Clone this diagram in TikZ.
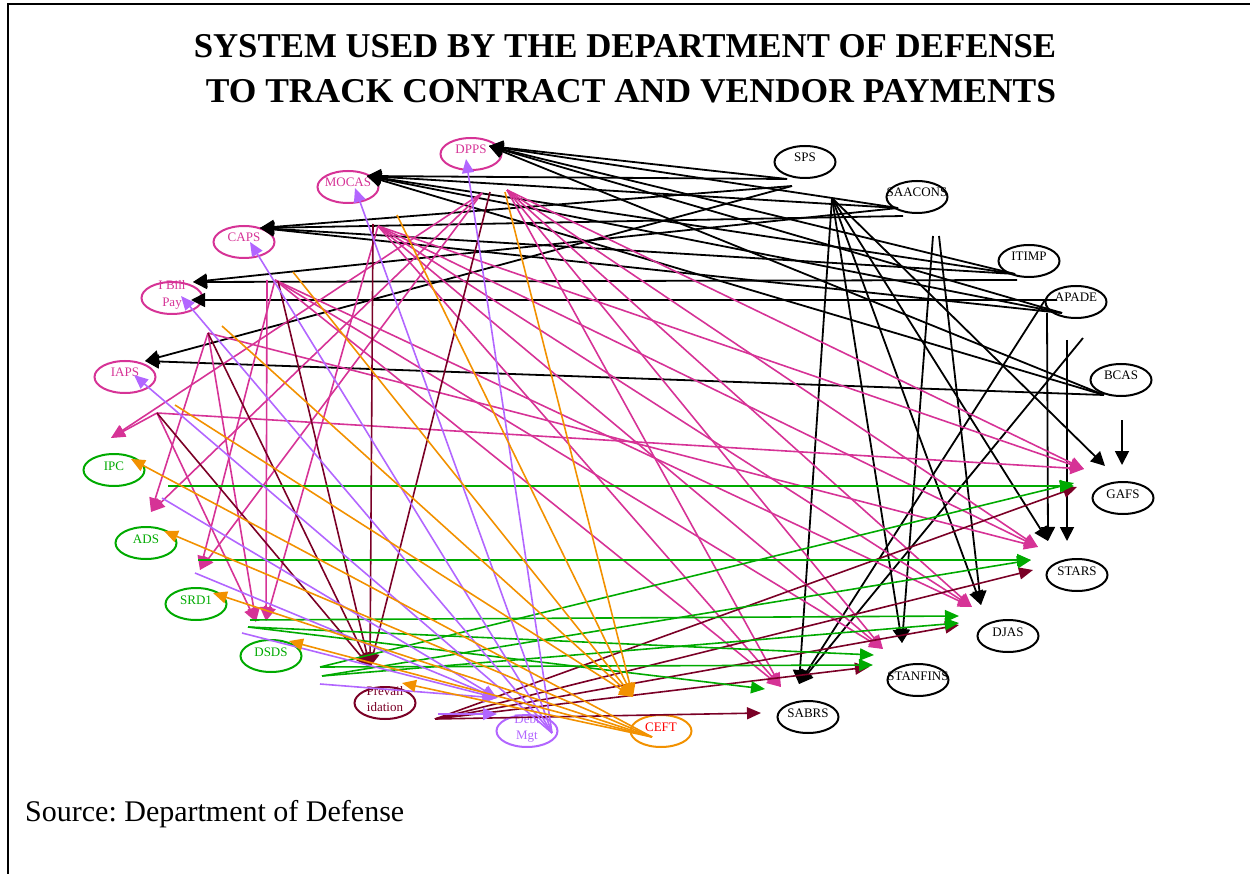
\documentclass[tikz,border=0pt]{standalone}
\usepackage{fontspec}
\setmainfont{Liberation Serif}
\usepackage{xcolor}
\usetikzlibrary{shapes.geometric,arrows.meta}
\frenchspacing
\definecolor{dodpink}{RGB}{214,51,150}
\definecolor{dodgreen}{RGB}{0,170,0}
\definecolor{dodmaroon}{RGB}{122,0,38}
\definecolor{dodviolet}{RGB}{178,102,255}
\definecolor{dodorange}{RGB}{242,145,0}
\tikzstyle{sys} = [ellipse, draw, line width=2pt, minimum width=61pt,
minimum height=32pt, inner sep=0pt, font=\fontsize{13}{15}\selectfont]
\tikzstyle{pinksys} = [sys, draw=dodpink, text=dodpink]
\tikzstyle{greensys} = [sys, draw=dodgreen, text=dodgreen]
\tikzstyle{title} = [inner sep=0pt, font=\fontsize{34.8}{40}\bfseries\selectfont]
\tikzstyle{link} = [draw, line width=1.8pt, -{Triangle[length=14pt,width=14pt]}]
\tikzstyle{feed} = [draw, line width=1.6pt, -{Triangle[length=14pt,width=12pt]}]
\tikzstyle{pinkfeed} = [feed, dodpink]
\tikzstyle{greenfeed} = [feed, dodgreen]
\tikzstyle{maroonfeed} = [feed, dodmaroon]
\tikzstyle{violetfeed} = [feed, dodviolet]
\tikzstyle{orangefeed} = [feed, dodorange]
\newcommand{\lbl}[1]{\smash{\makebox[0pt]{#1}}}
\newcommand{\lbll}[2]{\smash{\makebox[0pt]{\raisebox{8pt}{#1}}\makebox[0pt]{\raisebox{-8.5pt}{#2}}}}

\begin{document}
\begin{tikzpicture}[x=1pt, y=-1pt]
        \useasboundingbox (0,0) rectangle (1250,874);
        \draw [line width=2pt] (8,874) -- (8,4) -- (1250,4);

        \node [title, anchor=base] (head1) at (625,58) {SYSTEM USED BY THE DEPARTMENT OF DEFENSE};
        \node [title, anchor=base] (head2) at (631,103) {\scalebox{1.02}[1]{TO TRACK CONTRACT AND VENDOR PAYMENTS}};
        \node [inner sep=0pt, anchor=base west, font=\fontsize{30}{34}\selectfont] (source) at (25,821) {Source: Department of Defense};

        % payment systems
        \node [pinksys] (dpps) at (471,154) {\lbl{DPPS}};
        \node [pinksys] (mocas) at (348,187) {\lbl{MOCAS}};
        \node [pinksys] (caps) at (244,242) {\lbl{CAPS}};
        \node [pinksys] (ibill) at (172,298) {\lbll{I Bill}{Pay}};
        \node [pinksys] (iaps) at (125,377) {\lbl{IAPS}};
        \node [greensys] (ipc) at (114,470) {\lbl{IPC}};
        \node [greensys] (ads) at (146,543) {\lbl{ADS}};
        \node [greensys] (srd) at (196,604) {\lbl{SRD1}};
        \node [greensys] (dsds) at (271,656) {\lbl{DSDS}};
        \node [sys, draw=dodmaroon, text=dodmaroon] (prev) at (385,703) {\lbll{Prevail}{idation}};
        \node [sys, draw=dodviolet, text=dodviolet] (debt) at (527,731) {\lbll{Debt}{Mgt}};
        \node [sys, draw=dodorange, text=red] (ceft) at (661,731) {\lbl{CEFT}};

        % accounting systems
        \node [sys] (sps) at (805,162) {\lbl{SPS}};
        \node [sys] (saacons) at (917,197) {\lbl{SAACONS}};
        \node [sys] (itimp) at (1029,261) {\lbl{ITIMP}};
        \node [sys] (apade) at (1076,302) {\lbl{APADE}};
        \node [sys] (bcas) at (1121,380) {\lbl{BCAS}};
        \node [sys] (gafs) at (1123,498) {\lbl{GAFS}};
        \node [sys] (stars) at (1077,575) {\lbl{STARS}};
        \node [sys] (djas) at (1008,636) {\lbl{DJAS}};
        \node [sys] (stanfins) at (918,680) {\lbl{STANFINS}};
        \node [sys] (sabrs) at (808,717) {\lbl{SABRS}};

        % loose ends of the black links
        \coordinate (spsA) at (787,179);
        \coordinate (spsB) at (792,186);
        \coordinate (saaA) at (898,208);
        \coordinate (saaB) at (903,216);
        \coordinate (saaF) at (832,198);
        \coordinate (saaL) at (933,236);
        \coordinate (saaR) at (939,236);
        \coordinate (itiA) at (1015,274);
        \coordinate (itiB) at (1017,280);
        \coordinate (apaA) at (1057,300);
        \coordinate (apaB) at (1062,313);
        \coordinate (apaV) at (1047,313);
        \coordinate (apaD) at (1045,300);
        \coordinate (bcaA) at (1104,395);
        \coordinate (bcaD) at (1083,338);
        \coordinate (bcaV) at (1067,340);
        \coordinate (bcaG) at (1122,420);
        \coordinate (kDpps) at (489,146);
        \coordinate (kMocas) at (367,176);
        \coordinate (kCaps) at (260,228);
        \coordinate (kBillA) at (193,282);
        \coordinate (kBillB) at (191,300);
        \coordinate (kIaps) at (145,361);
        \coordinate (kGafsA) at (1105,466);
        \coordinate (kGafsB) at (1122,465);
        \coordinate (kStarsA) at (1048,541);
        \coordinate (kStarsB) at (1067,541);
        \coordinate (kDjas) at (981,605);
        \coordinate (kStan) at (902,643);
        \coordinate (kSabrs) at (799,684);

        % loose ends of the pink links
        \coordinate (pA) at (482,193);
        \coordinate (pB) at (507,190);
        \coordinate (pC) at (378,226);
        \coordinate (pD) at (275,280);
        \coordinate (pE) at (267,280);
        \coordinate (pF) at (208,333);
        \coordinate (pG) at (157,413);
        \coordinate (qIpc) at (111,438);
        \coordinate (qAds) at (151,512);
        \coordinate (qSrd) at (200,570);
        \coordinate (qDsdsA) at (256,622);
        \coordinate (qDsdsB) at (266,621);
        \coordinate (rGafs) at (1084,469);
        \coordinate (rStars) at (1038,547);
        \coordinate (rDjas) at (972,607);
        \coordinate (rStan) at (883,649);
        \coordinate (rSabrs) at (781,687);

        % loose ends of the maroon links
        \coordinate (mA) at (490,192);
        \coordinate (mB) at (373,224);
        \coordinate (mC) at (278,281);
        \coordinate (mS) at (435,719);
        \coordinate (mPrev) at (370,667);
        \coordinate (mSabrs) at (761,713);
        \coordinate (mStan) at (869,667);
        \coordinate (mDjas) at (959,625);
        \coordinate (mStars) at (1033,570);
        \coordinate (mGafs) at (1077,487);

        % loose ends of the green links
        \coordinate (gIpc) at (168,486);
        \coordinate (gAds) at (198,560);
        \coordinate (gSrdA) at (250,620);
        \coordinate (gSrdB) at (248,627);
        \coordinate (gDsdsA) at (320,667);
        \coordinate (gDsdsB) at (322,676);
        \coordinate (nGafsA) at (1074,486);
        \coordinate (nGafsB) at (1074,483);
        \coordinate (nStars) at (1031,560);
        \coordinate (nDjasA) at (959,616);
        \coordinate (nDjasB) at (959,623);
        \coordinate (nStanA) at (874,655);
        \coordinate (nStanB) at (873,665);
        \coordinate (nSabrs) at (765,689);

        % loose ends of the violet links
        \coordinate (vDebt) at (552,733);
        \coordinate (uDpps) at (466,159);
        \coordinate (uMocas) at (355,188);
        \coordinate (uCaps) at (250,242);
        \coordinate (uBill) at (181,296);
        \coordinate (uIaps) at (134,375);
        \coordinate (vS1) at (162,498);
        \coordinate (vS2) at (195,573);
        \coordinate (vS3) at (242,633);
        \coordinate (vS4) at (320,684);
        \coordinate (vS5) at (438,714);
        \coordinate (wDebtA) at (497,698);
        \coordinate (wDebtB) at (497,714);

        % loose ends of the orange links
        \coordinate (oCeft) at (652,737);
        \coordinate (oIpc) at (131,459);
        \coordinate (oAds) at (164,531);
        \coordinate (oSrd) at (213,593);
        \coordinate (oDsds) at (289,641);
        \coordinate (oPrev) at (402,683);
        \coordinate (oS1) at (505,192);
        \coordinate (oS2) at (397,215);
        \coordinate (oS3) at (293,272);
        \coordinate (oS4) at (222,326);
        \coordinate (oS5) at (175,405);
        \coordinate (cCeft) at (633,697);

        \path [link] (spsA) -- (kDpps);
        \path [link] (spsA) -- (kMocas);
        \path [link] (spsB) -- (kCaps);
        \path [link] (spsB) -- (kIaps);
        \path [link] (saaA) -- (kDpps);
        \path [link] (saaA) -- (kMocas);
        \path [link] (saaB) -- (kCaps);
        \path [link] (saaA) -- (kBillA);
        \path [link] (itiA) -- (kDpps);
        \path [link] (itiA) -- (kMocas);
        \path [link] (itiA) -- (kCaps);
        \path [link] (itiB) -- (kBillA);
        \path [link] (apaA) -- (kBillB);
        \path [link] (apaB) -- (kDpps);
        \path [link] (apaB) -- (kMocas);
        \path [link] (apaB) -- (kCaps);
        \path [link] (bcaA) -- (kDpps);
        \path [link] (bcaA) -- (kMocas);
        \path [link] (bcaA) -- (kIaps);
        \path [link] (saaF) -- (kSabrs);
        \path [link] (saaF) -- (kStan);
        \path [link] (saaF) -- (kDjas);
        \path [link] (saaF) -- (kStarsA);
        \path [link] (saaF) -- (kGafsA);
        \path [link] (saaL) -- (kStan);
        \path [link] (saaR) -- (kDjas);
        \path [link] (apaV) -- (kStarsA);
        \path [link] (bcaV) -- (kStarsB);
        \path [link] (apaD) -- (kSabrs);
        \path [link] (bcaD) -- (kSabrs);
        \path [link] (bcaG) -- (kGafsB);

        \path [pinkfeed] (pA) -- (qIpc);
        \path [pinkfeed] (pG) -- (qIpc);
        \path [pinkfeed] (pA) -- (qAds);
        \path [pinkfeed] (pF) -- (qAds);
        \path [pinkfeed] (pA) -- (qSrd);
        \path [pinkfeed] (pD) -- (qSrd);
        \path [pinkfeed] (pF) -- (qDsdsA);
        \path [pinkfeed] (pG) -- (qDsdsA);
        \path [pinkfeed] (pE) -- (qDsdsB);
        \path [pinkfeed] (pC) -- (qDsdsB);
        \path [pinkfeed] (pB) -- (rGafs);
        \path [pinkfeed] (pB) -- (rStars);
        \path [pinkfeed] (pB) -- (rDjas);
        \path [pinkfeed] (pB) -- (rStan);
        \path [pinkfeed] (pB) -- (rSabrs);
        \path [pinkfeed] (pC) -- (rGafs);
        \path [pinkfeed] (pC) -- (rStars);
        \path [pinkfeed] (pC) -- (rDjas);
        \path [pinkfeed] (pC) -- (rStan);
        \path [pinkfeed] (pC) -- (rSabrs);
        \path [pinkfeed] (pD) -- (rDjas);
        \path [pinkfeed] (pD) -- (rStan);
        \path [pinkfeed] (pD) -- (rSabrs);
        \path [pinkfeed] (pF) -- (rStars);
        \path [pinkfeed] (pG) -- (rGafs);

        \path [maroonfeed] (mA) -- (mPrev);
        \path [maroonfeed] (mB) -- (mPrev);
        \path [maroonfeed] (mC) -- (mPrev);
        \path [maroonfeed] (pF) -- (mPrev);
        \path [maroonfeed] (pG) -- (mPrev);
        \path [maroonfeed] (mS) -- (mSabrs);
        \path [maroonfeed] (mS) -- (mStan);
        \path [maroonfeed] (mS) -- (mDjas);
        \path [maroonfeed] (mS) -- (mStars);
        \path [maroonfeed] (mS) -- (mGafs);

        \path [greenfeed] (gIpc) -- (nGafsA);
        \path [greenfeed] (gAds) -- (nStars);
        \path [greenfeed] (gSrdA) -- (nDjasA);
        \path [greenfeed] (gSrdB) -- (nStanA);
        \path [greenfeed] (gSrdB) -- (nSabrs);
        \path [greenfeed] (gDsdsA) -- (nGafsB);
        \path [greenfeed] (gDsdsA) -- (nStanB);
        \path [greenfeed] (gDsdsB) -- (nStars);
        \path [greenfeed] (gDsdsB) -- (nDjasB);

        \path [violetfeed] (vDebt) -- (uDpps);
        \path [violetfeed] (vDebt) -- (uMocas);
        \path [violetfeed] (vDebt) -- (uCaps);
        \path [violetfeed] (vDebt) -- (uBill);
        \path [violetfeed] (vDebt) -- (uIaps);
        \path [violetfeed] (vS1) -- (wDebtA);
        \path [violetfeed] (vS2) -- (wDebtA);
        \path [violetfeed] (vS3) -- (wDebtA);
        \path [violetfeed] (vS4) -- (wDebtA);
        \path [violetfeed] (vS5) -- (wDebtB);

        \path [orangefeed] (oCeft) -- (oIpc);
        \path [orangefeed] (oCeft) -- (oAds);
        \path [orangefeed] (oCeft) -- (oSrd);
        \path [orangefeed] (oCeft) -- (oDsds);
        \path [orangefeed] (oCeft) -- (oPrev);
        \path [orangefeed] (oS1) -- (cCeft);
        \path [orangefeed] (oS2) -- (cCeft);
        \path [orangefeed] (oS3) -- (cCeft);
        \path [orangefeed] (oS4) -- (cCeft);
        \path [orangefeed] (oS5) -- (cCeft);
\end{tikzpicture}
\end{document}
